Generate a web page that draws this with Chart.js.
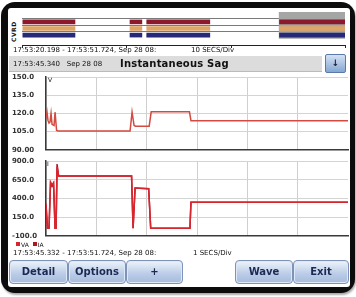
<!DOCTYPE html>
<html>
<head>
<meta charset="utf-8">
<script src="https://cdn.jsdelivr.net/npm/chart.js@4.4.1/dist/chart.umd.min.js"></script>
<style>
html, body { margin: 0; padding: 0; background: #fff; width: 356px; height: 297px; overflow: hidden; }
body { position: relative; font-family: "DejaVu Sans", sans-serif; color: #111; }
.abs { position: absolute; }
#bezel { left: 1px; top: 2px; width: 354px; height: 291px; background: #0c0c0c; border-radius: 14px; box-shadow: 1px 2px 2px #aaa; }
#screen { left: 8px; top: 8px; width: 342px; height: 279px; background: #fff; border-radius: 3px; }
.small { font-size: 7px; line-height: 8px; white-space: nowrap; }
#cvrd { left: 10px; top: 14px; width: 28px; height: 8px; transform-origin: 0 0; transform: translate(0, 28px) rotate(-90deg); font-size: 6px; font-weight: bold; letter-spacing: 0.5px; }
#header { left: 9px; top: 56px; width: 313px; height: 15px; background: #dcdcdc; border-bottom: 1px solid #bbb; }
#header .t { position: absolute; left: 4px; top: 4px; }
#header .b { position: absolute; left: 111px; top: 1px; font-size: 10px; font-weight: bold; line-height: 13px; letter-spacing: 0.2px; }
#down { left: 325px; top: 54px; width: 19px; height: 17px; border: 1px solid #5a78a8; border-radius: 2px; background: linear-gradient(#d4e2f4, #86a6d2); font-size: 9px; font-weight: bold; text-align: center; line-height: 17px; color: #123; }
.btn { top: 260px; height: 22px; border: 1px solid #7d93b8; border-radius: 4px; background: linear-gradient(#eef3fb, #b9cbe6 60%, #a7bcdc); font-size: 10px; font-weight: bold; color: #1b2a55; text-align: center; line-height: 22px; box-shadow: inset 0 0 0 1px #dfe8f6; }
.sq { display: inline-block; width: 4px; height: 4px; margin-right: 1px; vertical-align: 1px; }
canvas { position: absolute; }
</style>
</head>
<body>
<div id="bezel" class="abs"></div>
<div id="screen" class="abs"></div>

<div id="cvrd" class="abs">CVRD</div>
<canvas id="strip" width="332" height="38" style="left:20px; top:10px; width:332px; height:38px;"></canvas>

<div class="abs small" style="left:13px; top:46px;">17:53:20.198 - 17:53:51.724, Sep 28 08:</div>
<div class="abs small" style="left:191px; top:46px;">10 SECS/Div</div>

<div id="header" class="abs">
  <span class="t small">17:53:45.340&nbsp;&nbsp; Sep 28 08</span>
  <span class="b">Instantaneous Sag</span>
</div>
<div id="down" class="abs">&#8595;</div>

<canvas id="topChart" width="338" height="83" style="left:12px; top:71px; width:338px; height:83px;"></canvas>
<canvas id="botChart" width="338" height="85" style="left:12px; top:155px; width:338px; height:85px;"></canvas>
<div class="abs small" style="left:48px; top:76px; font-size:6px;">V</div>
<div class="abs small" style="left:47px; top:160px; font-size:6px;">I</div>

<div class="abs small" style="left:16px; top:242px; font-size:6px; line-height:6px;" id="legend"></div>
<div class="abs small" style="left:13px; top:249px;">17:53:45.332 - 17:53:51.724, Sep 28 08:</div>
<div class="abs small" style="left:193px; top:249px;">1 SECS/Div</div>

<div class="abs btn" style="left:9px; width:57px;">Detail</div>
<div class="abs btn" style="left:68px; width:56px;">Options</div>
<div class="abs btn" style="left:126px; width:55px;">+</div>
<div class="abs btn" style="left:235px; width:56px;">Wave</div>
<div class="abs btn" style="left:293px; width:54px;">Exit</div>

<script>
// Event strip (10 secs/div, seconds from 17:53:20.198)
const stripRows = ['S', 'A', 'B', 'C', ''];
const stripSegments = [[0, 5.1], [10.3, 11.5], [11.9, 18.0], [24.6, 30.9]];
const selectedWindow = [24.6, 30.9];
const stripColors = { A: '#8c1a2c', B: '#e0a565', C: '#262878' };

// Zoomed window (1 sec/div, seconds from 17:53:45.332)
const timeSec = [0, 0.02, 0.04, 0.06, 0.08, 0.10, 0.12, 0.16, 0.18, 0.21, 0.24,
                 1.67, 1.71, 1.75, 1.78, 2.05, 2.09, 2.85, 2.88, 6.0];
const voltsV  = [116, 121, 114, 112, 113, 120, 111, 110, 121, 106, 105.5,
                 105.5, 121, 110, 109.5, 109.5, 121.3, 121.3, 114, 114];

const curTime = [0, 0.03, 0.06, 0.09, 0.12, 0.15, 0.18, 0.20, 0.22, 0.25,
                 1.70, 1.73, 1.77, 2.04, 2.08, 2.86, 2.88, 6.0];
const seriesVA = [330, 0, 0, 620, 580, 610, 0, 0, 820, 700,
                  700, 0, 540, 530, 0, 0, 350, 350];
const seriesIA = [300, 0, 0, 600, 560, 600, 0, 0, 860, 700,
                  700, 0, 540, 530, 0, 0, 350, 350];

const topTickLabels = { 90: '90.00', 105: '105.0', 120: '120.0', 135: '135.0', 150: '150.0' };
const botTickLabels = { '-100': '-100.0', 150: '150.0', 400: '400.0', 650: '650.0', 900: '900.0' };
const legendNames = ['VA', 'IA'];
const legendColors = ['#d8262e', '#b01226'];

document.getElementById('legend').innerHTML = legendNames.map((n, i) =>
  '<span class="sq" style="background:' + legendColors[i] + '"></span>' + n).join('&nbsp;&nbsp;');

const tickFont = { family: 'DejaVu Sans', size: 7, weight: 'bold' };

// strip chart: gray selection behind, colored phase bars on top
const stripDatasets = [{
  data: ['S', 'A', 'B', 'C'].map(r => ({ y: r, x: selectedWindow })),
  backgroundColor: '#a3a6a3',
  categoryPercentage: 1, barPercentage: 1, order: 2
}];
['A', 'B', 'C'].forEach(r => {
  stripDatasets.push({
    data: stripSegments.map(s => ({ y: r, x: s })),
    backgroundColor: stripColors[r],
    categoryPercentage: 1, barPercentage: 0.7, order: 1
  });
});

new Chart(document.getElementById('strip'), {
  type: 'bar',
  data: { labels: stripRows, datasets: stripDatasets },
  options: {
    indexAxis: 'y', responsive: false, animation: false, grouped: false,
    layout: { padding: { left: 2, right: 7, top: 2, bottom: 0 } },
    plugins: { legend: { display: false }, tooltip: { enabled: false } },
    scales: {
      x: {
        type: 'linear', min: 0, max: 30.9,
        ticks: { display: false, stepSize: 10 },
        grid: { drawOnChartArea: false, tickLength: 3, color: '#222' },
        border: { color: '#222', width: 1 }
      },
      y: {
        ticks: { display: false },
        grid: { offset: true, color: (c) => (c.index === 0 || c.index >= 4) ? 'rgba(0,0,0,0)' : '#7a7a7a', drawTicks: false },
        border: { display: false }
      }
    }
  }
});

function lineOptions(min, max, step, labels) {
  return {
    responsive: false, animation: false,
    layout: { padding: { top: 6, bottom: 2, right: 2 } },
    plugins: { legend: { display: false }, tooltip: { enabled: false } },
    elements: { point: { radius: 0 }, line: { tension: 0, borderWidth: 1.5 } },
    scales: {
      x: {
        type: 'linear', min: 0, max: 6,
        ticks: { display: false, stepSize: 1 },
        grid: { color: (c) => c.tick.value === 6 ? 'rgba(0,0,0,0)' : '#cfcfcf', drawTicks: false },
        border: { color: '#3a3a3a', width: 1.5 },
        afterFit: (s) => { s.height = 0; }
      },
      y: {
        min: min, max: max,
        ticks: { stepSize: step, font: tickFont, color: '#333', padding: 0, crossAlign: 'far',
                 callback: (v) => labels[v] },
        grid: { color: '#d4d4d4', drawTicks: false },
        border: { color: '#3a3a3a', width: 1.5 },
        afterFit: (s) => { s.width = 34; }
      }
    }
  };
}

new Chart(document.getElementById('topChart'), {
  type: 'line',
  data: {
    datasets: [{
      label: 'V',
      data: timeSec.map((t, i) => ({ x: t, y: voltsV[i] })),
      borderColor: '#d24a40'
    }]
  },
  options: lineOptions(90, 150, 15, topTickLabels)
});

new Chart(document.getElementById('botChart'), {
  type: 'line',
  data: {
    datasets: [{
      label: 'VA',
      data: curTime.map((t, i) => ({ x: t, y: seriesVA[i] })),
      borderColor: legendColors[0]
    }, {
      label: 'IA',
      data: curTime.map((t, i) => ({ x: t, y: seriesIA[i] })),
      borderColor: legendColors[1]
    }]
  },
  options: lineOptions(-100, 900, 250, botTickLabels)
});
</script>
</body>
</html>
